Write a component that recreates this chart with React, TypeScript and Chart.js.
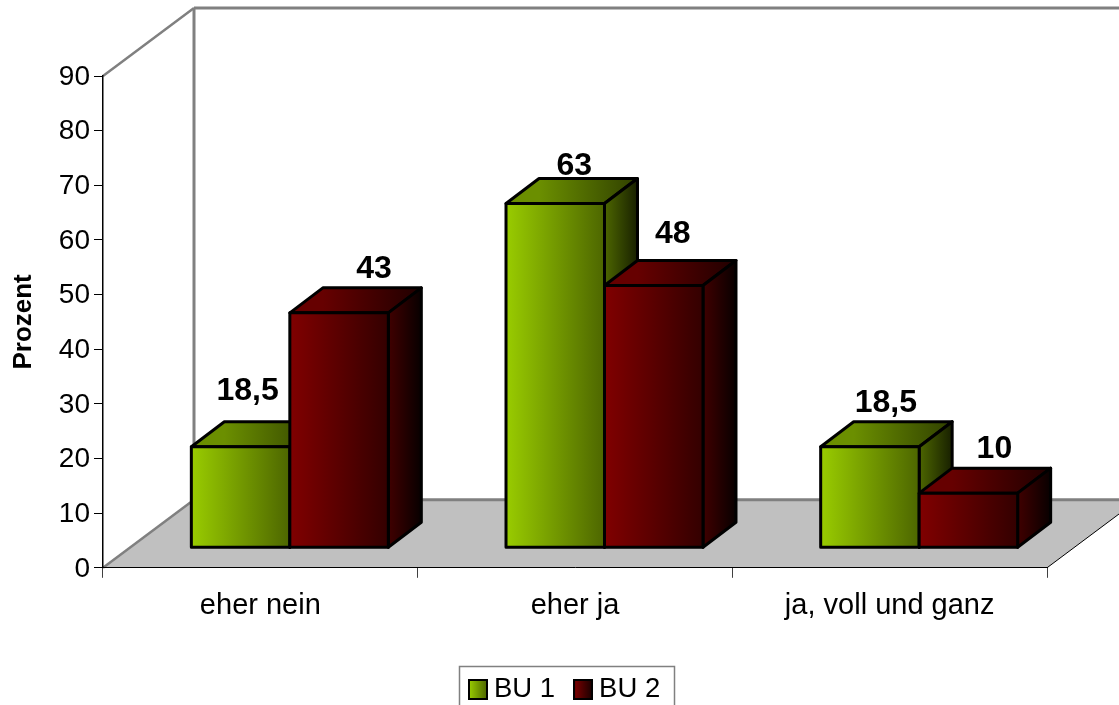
import React, { useEffect, useRef } from "react";
import { Chart, registerables } from "chart.js";

Chart.register(...registerables);

const categories = ["eher nein", "eher ja", "ja, voll und ganz"];
const seriesNames = ["BU 1", "BU 2"];
const bu1Values = [18.5, 63, 18.5];
const bu2Values = [43, 48, 10];
const yTickMax = 90;
const yTickStep = 10;

const FONT = '"Liberation Sans", Arial, sans-serif';
// [front left, front right, top left, top right, side left, side right]
const bu1Shades = ["#99cc00", "#4d6600", "#6b8f00", "#304000", "#4d6600", "#182000"];
const bu2Shades = ["#800000", "#330000", "#660000", "#200000", "#400000", "#080000"];
// label placement relative to each bar's top centre
const labelNudgeX = [[7, 19, 16], [35, 19, 26]];
const labelNudgeY = [[-56, -37, -44], [-44, -51, -44]];

const DEPTH_X = 33;
const DEPTH_Y = -25;
const LIFT = -20;
const SHIFT = 29.5;
const WALL_X = 91;
const WALL_Y = -68;

function hGrad(ctx: CanvasRenderingContext2D, x0: number, x1: number, a: string, b: string) {
  const g = ctx.createLinearGradient(x0, 0, x1, 0);
  g.addColorStop(0, a);
  g.addColorStop(1, b);
  return g;
}

function face(ctx: CanvasRenderingContext2D, pts: number[][], fill: CanvasGradient | string) {
  ctx.beginPath();
  pts.forEach((p, i) => (i ? ctx.lineTo(p[0], p[1]) : ctx.moveTo(p[0], p[1])));
  ctx.closePath();
  ctx.fillStyle = fill;
  ctx.fill();
  ctx.stroke();
}

function line(ctx: CanvasRenderingContext2D, x0: number, y0: number, x1: number, y1: number, color: string, w: number) {
  ctx.beginPath();
  ctx.moveTo(x0, y0);
  ctx.lineTo(x1, y1);
  ctx.strokeStyle = color;
  ctx.lineWidth = w;
  ctx.stroke();
}

const scenePlugin = {
  id: "scene3d",
  afterLayout(chart: any) {
    const lg = chart.legend;
    const pad = lg.options.labels.padding;
    const w = lg.right - lg.left;
    const h = lg.bottom - lg.top;
    lg.left = 475.75 - pad;
    lg.right = lg.left + w;
    lg.top = 689.5 - 13.75 - pad;
    lg.bottom = lg.top + h;
  },
  beforeDraw(chart: any) {
    const { ctx, chartArea: a } = chart;
    ctx.save();
    const backY = a.bottom + WALL_Y;
    const backX = a.left + WALL_X;
    // floor
    ctx.beginPath();
    ctx.moveTo(a.left, a.bottom);
    ctx.lineTo(a.right, a.bottom);
    ctx.lineTo(a.right + WALL_X, backY);
    ctx.lineTo(backX, backY);
    ctx.closePath();
    ctx.fillStyle = "#c0c0c0";
    ctx.fill();
    // walls
    line(ctx, a.left, a.bottom, backX, backY, "#808080", 2.5);
    line(ctx, backX, backY, chart.width, backY, "#808080", 3);
    line(ctx, a.right, a.bottom, a.right + WALL_X, backY, "#000000", 1);
    line(ctx, backX, a.top + WALL_Y, backX, backY, "#808080", 3);
    line(ctx, a.left, a.top, backX, a.top + WALL_Y, "#808080", 2.5);
    line(ctx, backX, a.top + WALL_Y, chart.width, a.top + WALL_Y, "#808080", 3);
    ctx.restore();
  },
  beforeDatasetsDraw(chart: any) {
    const { ctx } = chart;
    ctx.save();
    ctx.strokeStyle = "#000000";
    ctx.lineWidth = 3;
    ctx.lineJoin = "round";
    categories.forEach((_, c) => {
      chart.data.datasets.forEach((_d: any, s: number) => {
        const bar = chart.getDatasetMeta(s).data[c];
        const shades = s === 0 ? bu1Shades : bu2Shades;
        const l = bar.x + SHIFT - bar.width / 2;
        const r = bar.x + SHIFT + bar.width / 2;
        const t = bar.y + LIFT;
        const b = bar.base + LIFT;
        const dx = DEPTH_X;
        const dy = DEPTH_Y;
        face(ctx, [[l, t], [r, t], [r + dx, t + dy], [l + dx, t + dy]], hGrad(ctx, l + dx, r + dx, shades[2], shades[3]));
        face(ctx, [[r, t], [r + dx, t + dy], [r + dx, b + dy], [r, b]], hGrad(ctx, r, r + dx, shades[4], shades[5]));
        face(ctx, [[l, t], [r, t], [r, b], [l, b]], hGrad(ctx, l, r, shades[0], shades[1]));
      });
    });
    ctx.restore();
  },
  afterDraw(chart: any) {
    const { ctx } = chart;
    ctx.save();
    // data labels
    ctx.font = `bold 32px ${FONT}`;
    ctx.fillStyle = "#000000";
    ctx.textAlign = "center";
    ctx.textBaseline = "middle";
    chart.data.datasets.forEach((ds: any, s: number) => {
      chart.getDatasetMeta(s).data.forEach((bar: any, c: number) => {
        const text = String(ds.data[c]).replace(".", ",");
        ctx.fillText(text, bar.x + SHIFT + labelNudgeX[s][c], bar.y + LIFT + labelNudgeY[s][c]);
      });
    });
    // legend frame
    ctx.strokeStyle = "#808080";
    ctx.lineWidth = 1.5;
    ctx.strokeRect(459.5, 666.5, 215, 50);
    ctx.restore();
  },
};

function swatch(a: string, b: string) {
  const cv = document.createElement("canvas");
  cv.width = 20;
  cv.height = 21;
  const c = cv.getContext("2d")!;
  c.fillStyle = hGrad(c, 1, 19, a, b);
  c.fillRect(1, 1, 18, 19);
  c.strokeStyle = "#000000";
  c.lineWidth = 2;
  c.strokeRect(1, 1, 18, 19);
  return cv;
}

export default function App() {
  const ref = useRef<HTMLCanvasElement>(null);
  useEffect(() => {
    const chart = new Chart(ref.current!, {
      type: "bar",
      data: {
        labels: categories,
        datasets: [
          { label: seriesNames[0], data: bu1Values, backgroundColor: "rgba(0,0,0,0)", borderWidth: 0 },
          { label: seriesNames[1], data: bu2Values, backgroundColor: "rgba(0,0,0,0)", borderWidth: 0 },
        ],
      },
      options: {
        responsive: false,
        animation: false,
        datasets: { bar: { categoryPercentage: 0.626, barPercentage: 1 } },
        layout: { padding: { top: 76, right: 72, left: 0, bottom: 0 } },
        scales: {
          x: {
            grid: { drawOnChartArea: false, drawTicks: true, tickLength: 10, color: "#404040", offset: true },
            border: { color: "#000000", width: 1 },
            ticks: { font: { family: FONT, size: 29 }, color: "#000000", maxRotation: 0, autoSkip: false, padding: 11 },
            afterFit(s: any) {
              s.height = 74;
              s.paddingLeft = 0;
              s.paddingRight = 0;
            },
          },
          y: {
            min: 0,
            max: yTickMax,
            grid: { drawOnChartArea: false, drawTicks: true, tickLength: 9, color: "#000000" },
            border: { color: "#000000", width: 1.5 },
            ticks: { stepSize: yTickStep, font: { family: FONT, size: 28 }, color: "#000000", padding: 4, labelOffset: 1 },
            title: {
              display: true,
              text: "Prozent",
              color: "#000000",
              font: { family: FONT, size: 26, weight: "bold" },
              padding: { top: 8, bottom: 0 },
            },
            afterFit(s: any) {
              s.width = 103;
              s.paddingTop = 0;
              s.paddingBottom = 0;
            },
          },
        },
        plugins: {
          tooltip: { enabled: false },
          legend: {
            display: true,
            position: "bottom",
            align: "start",
            labels: {
              font: { family: FONT, size: 27.5 },
              color: "#000000",
              usePointStyle: true,
              pointStyleWidth: 4.5,
              padding: 25.7,
              generateLabels: () =>
                seriesNames.map((name, i) => ({
                  text: name,
                  datasetIndex: i,
                  pointStyle: i === 0 ? swatch(bu1Shades[0], bu1Shades[1]) : swatch(bu2Shades[0], "#1a0000"),
                  fillStyle: i === 0 ? bu1Shades[0] : bu2Shades[0],
                  strokeStyle: "#000000",
                  lineWidth: 0,
                  hidden: false,
                })),
            },
          },
        },
      },
      plugins: [scenePlugin],
    } as any);
    return () => chart.destroy();
  }, []);
  return (
    <canvas
      ref={ref}
      width={1119}
      height={705}
      style={{ position: "absolute", left: 0, top: 0, display: "block" }}
    />
  );
}
